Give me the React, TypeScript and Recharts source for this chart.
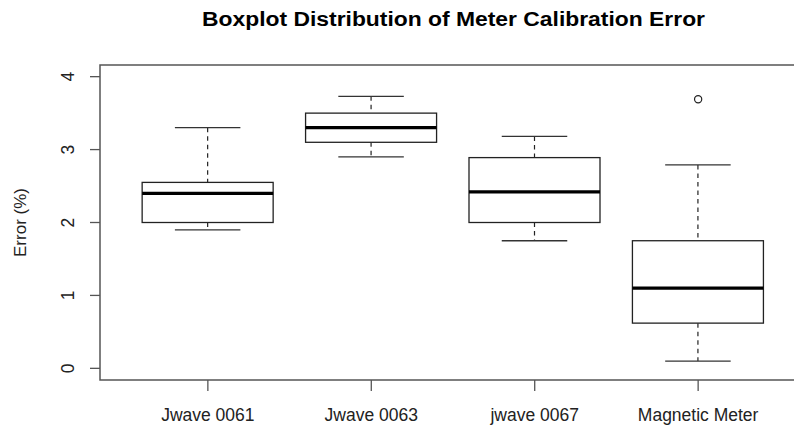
import React from "react";
import {
  ComposedChart,
  Bar,
  Scatter,
  XAxis,
  YAxis,
  ReferenceArea,
} from "recharts";

// 박스플롯 값들
const CATEGORIES = ["Jwave 0061", "Jwave 0063", "jwave 0067", "Magnetic Meter"];
const WHISKER_LOW = [1.9, 2.9, 1.75, 0.1];
const Q1 = [2.0, 3.1, 2.0, 0.62];
const MEDIAN = [2.4, 3.3, 2.42, 1.1];
const Q3 = [2.55, 3.5, 2.89, 1.75];
const WHISKER_HIGH = [3.3, 3.73, 3.18, 2.79];
const OUTLIER_POS = [4];
const OUTLIER_VALUE = [3.69];
const Y_TICKS = [0, 1, 2, 3, 4];

const boxData = CATEGORIES.map((name, i) => ({
  name,
  pos: i + 1,
  low: WHISKER_LOW[i],
  q1: Q1[i],
  median: MEDIAN[i],
  q3: Q3[i],
  high: WHISKER_HIGH[i],
}));

const outlierData = OUTLIER_POS.map((pos, i) => ({ pos, value: OUTLIER_VALUE[i] }));

const FONT = "'Liberation Sans', Arial, sans-serif";
const LINE = "#555";

// 범위 막대(low~high) 안에서 y 스케일을 다시 계산해 박스, 수염, 중앙값을 그림
function BoxShape(props: any) {
  const { x, y, width, height, payload } = props;
  if (!payload) return null;
  const top = Math.min(y, y + height);
  const span = Math.abs(height);
  const py = (v: number) => top + ((payload.high - v) / (payload.high - payload.low)) * span;
  const cx = x + width / 2;
  const cap = width / 4;
  return (
    <g>
      <line x1={cx} x2={cx} y1={py(payload.high)} y2={py(payload.q3)} stroke="#222" strokeWidth={1.2} strokeDasharray="4.5 4" />
      <line x1={cx} x2={cx} y1={py(payload.q1)} y2={py(payload.low)} stroke="#222" strokeWidth={1.2} strokeDasharray="4.5 4" />
      <line x1={cx - cap} x2={cx + cap} y1={py(payload.high)} y2={py(payload.high)} stroke="#333" strokeWidth={1.3} />
      <line x1={cx - cap} x2={cx + cap} y1={py(payload.low)} y2={py(payload.low)} stroke="#333" strokeWidth={1.3} />
      <rect
        x={x}
        y={py(payload.q3)}
        width={width}
        height={py(payload.q1) - py(payload.q3)}
        fill="white"
        stroke="#222"
        strokeWidth={1.3}
      />
      <line x1={x} x2={x + width} y1={py(payload.median)} y2={py(payload.median)} stroke="#000" strokeWidth={3.2} />
    </g>
  );
}

function XTick(props: any) {
  const { x, y, payload } = props;
  return (
    <text x={x} y={y} dy="0.71em" textAnchor="middle" fontSize={17.5} fontFamily={FONT} fill="#222">
      {CATEGORIES[payload.value - 1]}
    </text>
  );
}

function YTick(props: any) {
  const { x, y, payload } = props;
  return (
    <text
      x={x}
      y={y}
      transform={`rotate(-90 ${x} ${y})`}
      textAnchor="middle"
      fontSize={17.5}
      fontFamily={FONT}
      fill="#222"
    >
      {payload.value}
    </text>
  );
}

export default function App() {
  return (
    <div
      style={{
        position: "absolute",
        left: 0,
        top: 0,
        width: 794,
        height: 425,
        overflow: "hidden",
        background: "white",
      }}
    >
      <ComposedChart
        width={820}
        height={425}
        data={boxData}
        margin={{ top: 65, right: 14, bottom: 0, left: 0 }}
      >
        <XAxis
          type="number"
          dataKey="pos"
          domain={[0.34, 4.66]}
          ticks={[1, 2, 3, 4]}
          allowDataOverflow
          interval={0}
          height={45}
          tickSize={11}
          tickMargin={17.5}
          axisLine={false}
          tickLine={{ stroke: LINE, strokeWidth: 1.3 }}
          tick={XTick}
        />
        <YAxis
          type="number"
          domain={[-0.16, 4.16]}
          ticks={Y_TICKS}
          allowDataOverflow
          interval={0}
          width={100}
          tickSize={10}
          tickMargin={16}
          axisLine={false}
          tickLine={{ stroke: LINE, strokeWidth: 1.3 }}
          tick={YTick}
        />
        <ReferenceArea
          x1={0.34}
          x2={4.66}
          y1={-0.16}
          y2={4.16}
          fill="none"
          stroke={LINE}
          strokeWidth={1.5}
          ifOverflow="visible"
        />
        <Bar
          dataKey={(d: any) => [d.low, d.high]}
          barSize={131}
          shape={BoxShape}
          isAnimationActive={false}
        />
        <Scatter
          data={outlierData}
          dataKey="value"
          isAnimationActive={false}
          shape={(p: any) => (
            <circle cx={p.cx} cy={p.cy} r={3.6} fill="white" stroke="#222" strokeWidth={1.2} />
          )}
        />
      </ComposedChart>
      <svg
        width={794}
        height={425}
        style={{ position: "absolute", left: 0, top: 0, pointerEvents: "none" }}
      >
        <text
          x={453.5}
          y={26}
          textAnchor="middle"
          fontSize={20}
          fontWeight="bold"
          fontFamily={FONT}
          fill="#000"
          textLength={503}
          lengthAdjust="spacingAndGlyphs"
        >
          Boxplot Distribution of Meter Calibration Error
        </text>
        <text
          x={26}
          y={222.5}
          transform="rotate(-90 26 222.5)"
          textAnchor="middle"
          fontSize={17}
          fontFamily={FONT}
          fill="#222"
        >
          Error (%)
        </text>
      </svg>
    </div>
  );
}
